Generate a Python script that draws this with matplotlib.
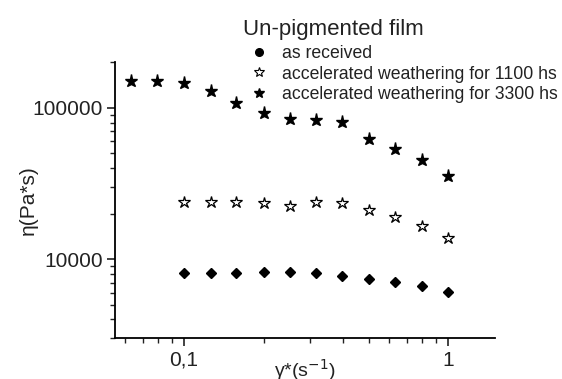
import matplotlib
matplotlib.use("Agg")
import matplotlib.pyplot as plt
import matplotlib.ticker as ticker
from matplotlib.lines import Line2D

plt.rcParams['font.family'] = ['Liberation Sans', 'DejaVu Sans']

# shear rate (1/s)
rate_3300 = [0.063, 0.079, 0.1, 0.126, 0.158, 0.2, 0.251, 0.316, 0.398, 0.501, 0.631, 0.794, 1.0]
rate = [0.1, 0.126, 0.158, 0.2, 0.251, 0.316, 0.398, 0.501, 0.631, 0.794, 1.0]

# viscosity (Pa*s)
eta_received = [8070, 8070, 8070, 8240, 8240, 8070, 7710, 7400, 7070, 6650, 6070]
eta_1100 = [23900, 23700, 23900, 23400, 22500, 23700, 23400, 21200, 19100, 16600, 13800]
eta_3300 = [151000, 150000, 147000, 130000, 107000, 93000, 85000, 83000, 80700, 62500, 53600, 45300, 35500]

labels = ['as received', 'accelerated weathering for 1100 hs', 'accelerated weathering for 3300 hs']

fig = plt.figure(figsize=(5.62, 3.79), dpi=100)
ax = fig.add_axes([0.2055, 0.1074, 0.6745, 0.7282])

ax.plot(rate, eta_received, 'D', ms=5.5, color='black', mec='black')
ax.plot(rate, eta_1100, '*', ms=9, mfc='white', mec='black', mew=0.9)
ax.plot(rate_3300, eta_3300, '*', ms=9.5, color='black')

ax.set_xscale('log')
ax.set_yscale('log')
ax.set_xlim(0.055, 1.5)
ax.set_ylim(3000, 2e5)

ax.spines['top'].set_visible(False)
ax.spines['right'].set_visible(False)
ax.spines['left'].set_linewidth(1.3)
ax.spines['bottom'].set_linewidth(1.3)

ax.xaxis.set_major_locator(ticker.FixedLocator([0.1, 1]))
ax.xaxis.set_major_formatter(ticker.FixedFormatter(['0,1', '1']))
ax.xaxis.set_minor_locator(ticker.LogLocator(base=10, subs=range(2, 10)))
ax.xaxis.set_minor_formatter(ticker.NullFormatter())
ax.yaxis.set_major_locator(ticker.FixedLocator([1e4, 1e5]))
ax.yaxis.set_major_formatter(ticker.FixedFormatter(['10000', '100000']))
ax.yaxis.set_minor_locator(ticker.LogLocator(base=10, subs=range(2, 10)))
ax.yaxis.set_minor_formatter(ticker.NullFormatter())

ax.tick_params(which='major', length=6, width=1.2, labelsize=15, colors='#222222', pad=3)
ax.tick_params(which='minor', length=3.5, width=1.0, colors='#222222')

ax.set_ylabel('η(Pa*s)', fontsize=15, color='#222222', labelpad=-4)
ax.set_xlabel('γ*(s$^{-1}$)', fontsize=14, color='#222222', labelpad=-9.5)

fig.text(0.594, 0.922, 'Un-pigmented film', fontsize=16, ha='center', va='center', color='#222222')

handles = [
    Line2D([], [], ls='none', marker='o', ms=5.5, color='black'),
    Line2D([], [], ls='none', marker='*', ms=7, mfc='white', mec='black', mew=0.8),
    Line2D([], [], ls='none', marker='*', ms=7, color='black'),
]
fig.legend(handles, labels, loc='upper left', bbox_to_anchor=(0.446, 0.881),
           frameon=False, fontsize=12.7, handlelength=1.0, handletextpad=0.75,
           labelspacing=0.2, borderpad=0, borderaxespad=0, labelcolor='#222222')

fig.savefig('out.png', dpi=100)
